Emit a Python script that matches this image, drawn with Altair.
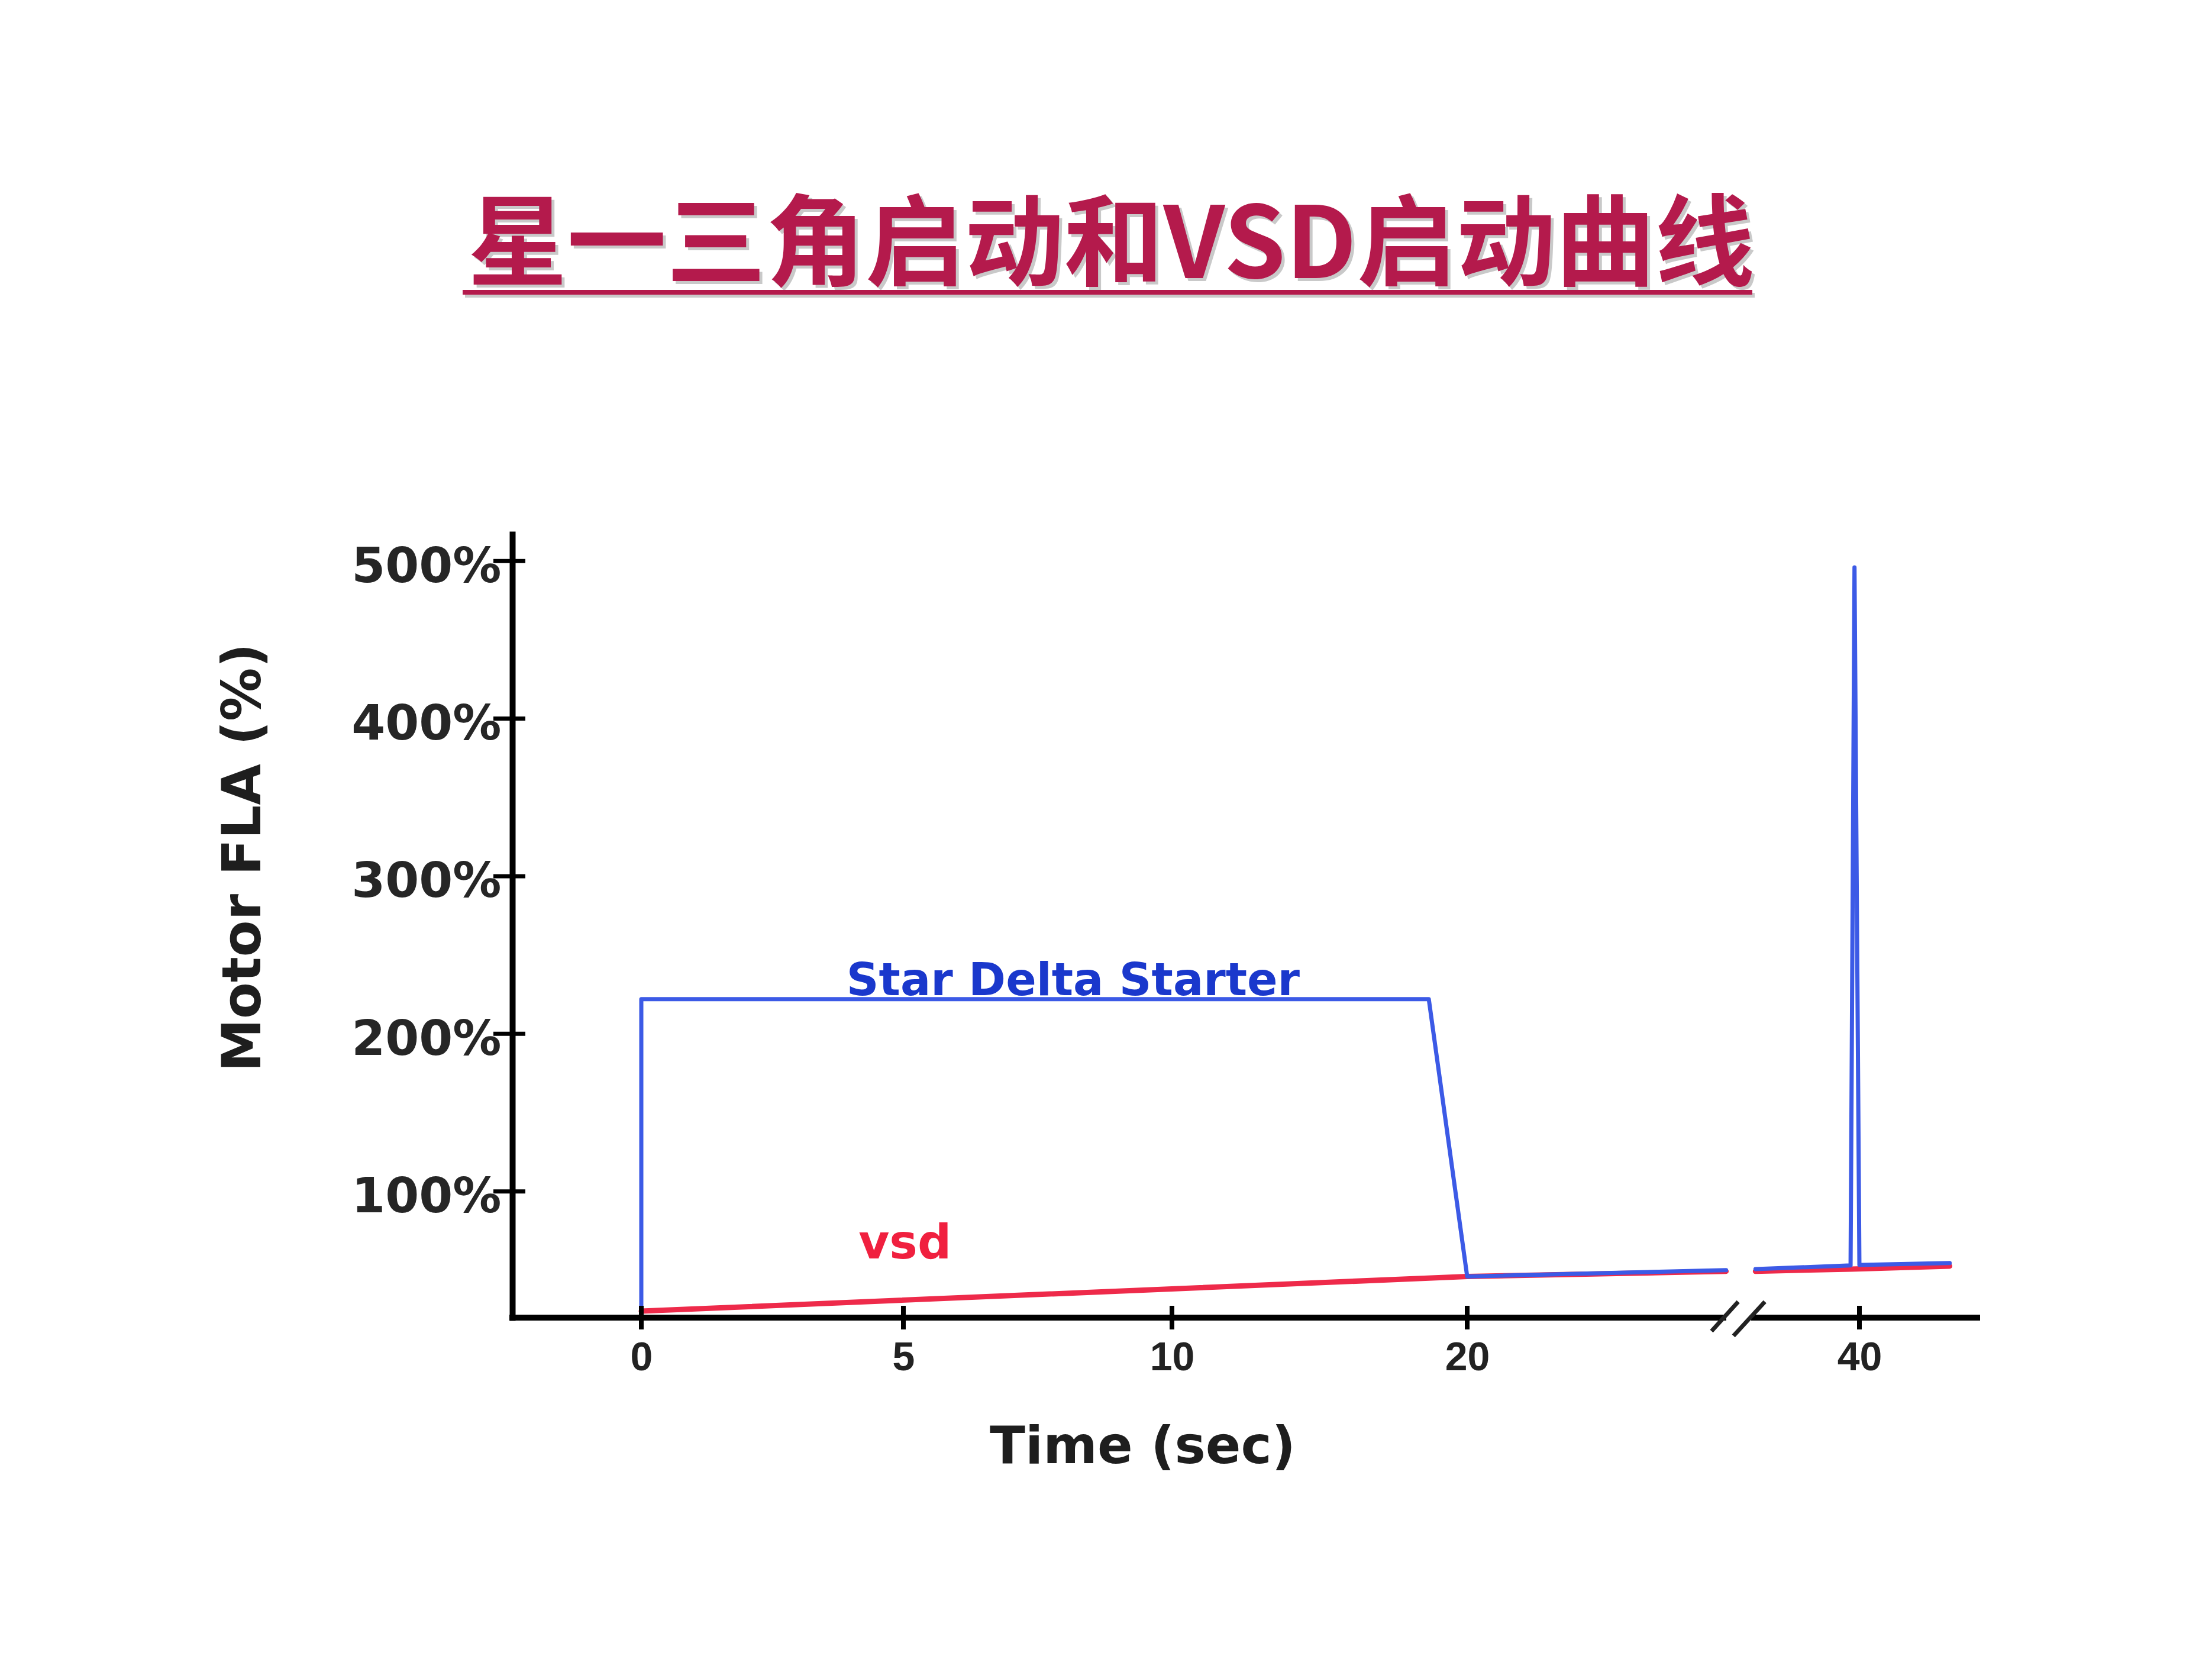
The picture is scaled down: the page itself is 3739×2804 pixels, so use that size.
import altair as alt
import pandas as pd

# ---------------- data ----------------
TITLE = "星一三角启动和VSD启动曲线"
X_TITLE = "Time (sec)"
Y_TITLE = "Motor FLA (%)"
X_TICKS = [0, 5, 10, 20, 40]
Y_TICKS = [100, 200, 300, 400, 500]

# Star Delta Starter (blue)
SD_TIME = [0, 0, 18.7, 20, 33.2, 34.7, 39.55, 39.75, 40.0, 44.6]
SD_VALUE = [24, 222, 222, 46, 50, 50.7, 53, 496, 53.3, 54.5]
SD_SEG = [0, 0, 0, 0, 0, 1, 1, 1, 1, 1]

# VSD (red)
VSD_TIME = [0, 20, 33.2, 34.7, 39.6, 44.6]
VSD_VALUE = [24, 46, 49.3, 49.3, 50.7, 52.6]
VSD_SEG = [0, 0, 0, 1, 1, 1]

# axis extent and break (in time units / percent)
AXIS_START, BREAK_LEFT, BREAK_RIGHT, AXIS_END = -2.46, 33.06, 34.63, 46.0
Y_MIN, Y_MAX = 19.9, 517
SLASH_T1 = [32.46, 33.58]
SLASH_T2 = [33.82, 35.18]
SLASH_V1 = [11.3, 8.3]
SLASH_V2 = [30, 30]

LABELS = ["Star Delta Starter", "vsd"]
LABEL_T = [8.16, 5.03]
LABEL_V = [224.5, 57.4]

# ---------------- layout / style ----------------
W, H = 2476, 1324
BLUE = "#3C5AE6"
RED = "#EE2A4A"
CRIMSON = "#B41A4C"
INK = "#1e1e1e"

# hand-drawn, non-uniform time axis -> piecewise linear scale
xscale = alt.Scale(domain=[AXIS_START, 0, 5, 10, 20, 40, AXIS_END],
                   range=[0, 218, 661, 1115, 1614, 2277, W],
                   nice=False, zero=False)
yscale = alt.Scale(domain=[Y_MIN, Y_MAX], nice=False, zero=False)

xaxis = alt.Axis(values=X_TICKS, domain=False, ticks=False, tickSize=0, grid=False,
                 labelFont="Liberation Sans", labelFontWeight="bold", labelFontSize=68,
                 labelColor="#222222", labelPadding=34, labelFlush=False, labelOverlap=False,
                 labelLimit=0,
                 title=X_TITLE, titleFont="DejaVu Sans", titleFontWeight="bold",
                 titleFontSize=88, titleColor=INK, titleX=1065, titleY=245,
                 titleAlign="center", titleBaseline="alphabetic", titleLimit=0)
yaxis = alt.Axis(values=Y_TICKS, labelExpr="datum.value + '%'", grid=False,
                 domain=True, domainColor="black", domainWidth=10, domainCap="square",
                 ticks=False, tickSize=0, labelPadding=19,
                 labelFont="DejaVu Sans", labelFontWeight="bold", labelFontSize=82,
                 labelColor="#262626", labelOffset=10, labelBaseline="middle",
                 labelFlush=False, labelOverlap=False, labelLimit=0,
                 title=Y_TITLE, titleFont="DejaVu Sans", titleFontWeight="bold",
                 titleFontSize=90, titleColor=INK, titleAngle=270,
                 titleX=-427, titleY=546, titleAlign="center", titleBaseline="alphabetic",
                 titleLimit=0)


def X(field):
    return alt.X(f"{field}:Q", scale=xscale, axis=xaxis)


def Y(field):
    return alt.Y(f"{field}:Q", scale=yscale, axis=yaxis)


sd = pd.DataFrame({"t": SD_TIME, "v": SD_VALUE, "seg": SD_SEG, "i": range(len(SD_TIME))})
vsd = pd.DataFrame({"t": VSD_TIME, "v": VSD_VALUE, "seg": VSD_SEG, "i": range(len(VSD_TIME))})
xticks = pd.DataFrame({"tick": X_TICKS})
yticks = pd.DataFrame({"tick": Y_TICKS})
xaxis_df = pd.DataFrame({"a": [AXIS_START, BREAK_RIGHT], "b": [BREAK_LEFT, AXIS_END]})
slashes = pd.DataFrame({"t1": SLASH_T1, "t2": SLASH_T2, "v1": SLASH_V1, "v2": SLASH_V2})
labels = pd.DataFrame({"label": LABELS, "t": LABEL_T, "v": LABEL_V})
title_df = pd.DataFrame({"title": [TITLE]})

red_line = alt.Chart(vsd).mark_line(color=RED, strokeWidth=9, strokeCap="round",
                                    strokeJoin="round").encode(
    x=X("t"), y=Y("v"), detail="seg:N", order="i:Q")
blue_line = alt.Chart(sd).mark_line(color=BLUE, strokeWidth=7, strokeCap="round",
                                    strokeJoin="round").encode(
    x=X("t"), y=Y("v"), detail="seg:N", order="i:Q")

x_axis_line = alt.Chart(xaxis_df).mark_rule(color="black", strokeWidth=10,
                                            strokeCap="square").encode(
    x=X("a"), x2="b", y=alt.value(H))
x_tick_marks = alt.Chart(xticks).mark_rule(color="black", strokeWidth=8).encode(
    x=X("tick"), y=alt.value(H - 20), y2=alt.value(H + 20))
y_tick_marks = alt.Chart(yticks).mark_rule(color="black", strokeWidth=7).encode(
    y=Y("tick"), x=alt.value(-32), x2=alt.value(22))
break_marks = alt.Chart(slashes).mark_rule(color="#222222", strokeWidth=7).encode(
    x=X("t1"), x2="t2", y=Y("v1"), y2="v2")

text_sd = alt.Chart(labels.iloc[[0]]).mark_text(
    font="DejaVu Sans", fontWeight="bold", fontSize=76, color="#1A38CC",
    align="center", baseline="alphabetic").encode(x=X("t"), y=Y("v"), text="label:N")
text_vsd = alt.Chart(labels.iloc[[1]]).mark_text(
    font="DejaVu Sans", fontWeight="bold", fontSize=80, color="#F0203F",
    align="center", baseline="alphabetic").encode(x=X("t"), y=Y("v"), text="label:N")

title_shadow = alt.Chart(title_df).mark_text(
    font="Noto Sans CJK SC", fontWeight="bold", fontSize=168, color="#8a8a8a",
    opacity=0.45, align="center", baseline="alphabetic").encode(
    x=alt.value(1017), y=alt.value(-428), text="title:N")
title_text = alt.Chart(title_df).mark_text(
    font="Noto Sans CJK SC", fontWeight="bold", fontSize=168, color=CRIMSON,
    align="center", baseline="alphabetic").encode(
    x=alt.value(1012), y=alt.value(-433), text="title:N")
underline_shadow = alt.Chart(title_df).mark_rule(
    color="#8a8a8a", opacity=0.45, strokeWidth=8).encode(
    x=alt.value(-80), x2=alt.value(2100), y=alt.value(-404))
underline = alt.Chart(title_df).mark_rule(color=CRIMSON, strokeWidth=8).encode(
    x=alt.value(-84), x2=alt.value(2096), y=alt.value(-409))

chart = alt.layer(
    red_line, blue_line, x_axis_line, x_tick_marks, y_tick_marks, break_marks,
    text_sd, text_vsd, title_shadow, title_text, underline_shadow, underline,
).properties(
    width=W, height=H,
    autosize=alt.AutoSizeParams(type="none"),
    padding={"left": 866, "top": 903, "right": 397, "bottom": 577},
    background="white",
).configure_view(stroke=None)

chart.save("out.html", embed_options={"renderer": "svg", "actions": False})
